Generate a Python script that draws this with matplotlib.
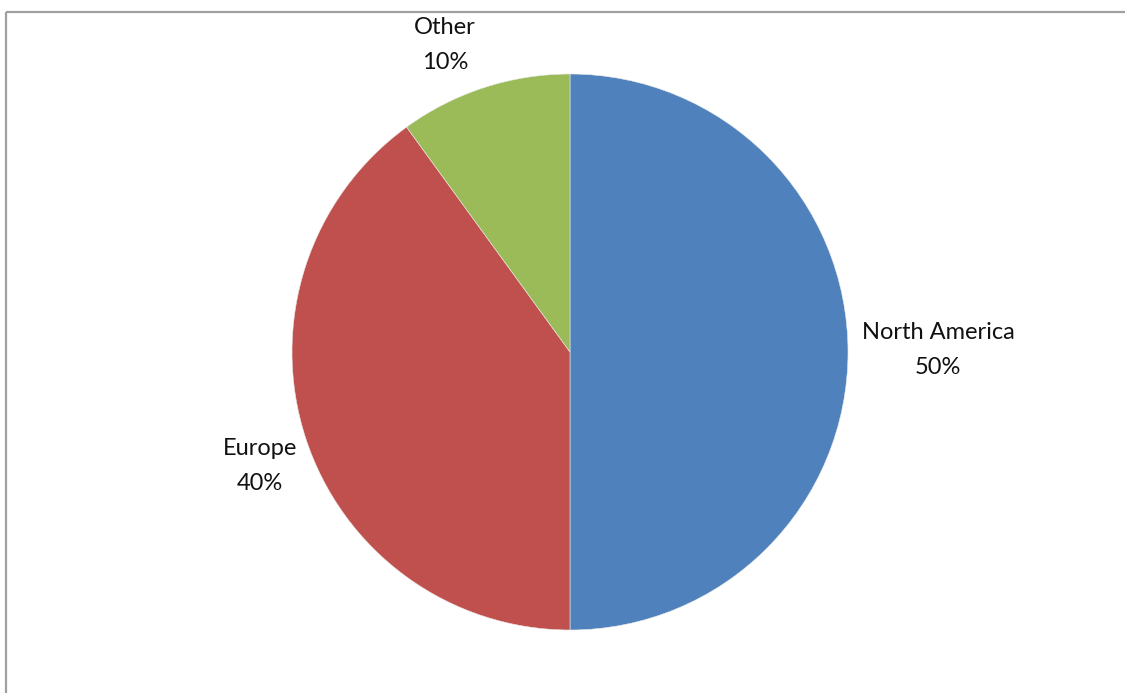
import matplotlib
matplotlib.use('Agg')
import matplotlib.pyplot as plt

REGIONES = ['North America', 'Europe', 'Other']
PORCENTAJES = [50, 40, 10]
COLORES = ['#4F81BD', '#C0504D', '#9BBB59']

plt.rcParams['font.family'] = ['Lato', 'DejaVu Sans']

W, H = 1125, 693
fig = plt.figure(figsize=(W / 100, H / 100), dpi=100)
ax = fig.add_axes([0, 0, 1, 1])

centro = (570, H - 352)
radio = 278

ax.pie(PORCENTAJES, colors=COLORES, startangle=90, counterclock=False,
       center=centro, radius=radio, frame=True,
       wedgeprops={'linewidth': 0.4, 'edgecolor': '#e8e8e8'})
ax.set_xlim(0, W)
ax.set_ylim(0, H)
ax.set_aspect('equal')
ax.axis('off')

# posiciones de las etiquetas (pixeles)
pos_etiquetas = [(938, H - 350), (260, H - 466), (445, H - 45)]
for nombre, p, (x, y) in zip(REGIONES, PORCENTAJES, pos_etiquetas):
    ax.text(x, y, nombre + '\n' + str(p) + '%', ha='center', va='center',
            fontsize=17, color='#111111', linespacing=1.8)

# borde del area del grafico
ax.plot([5.5, 5.5], [0, H - 11.5], color='#a0a0a0', linewidth=1.6,
        solid_capstyle='butt')
ax.plot([5.5, W], [H - 11.5, H - 11.5], color='#a0a0a0', linewidth=1.6,
        solid_capstyle='butt')

fig.savefig('out.png', dpi=100)
